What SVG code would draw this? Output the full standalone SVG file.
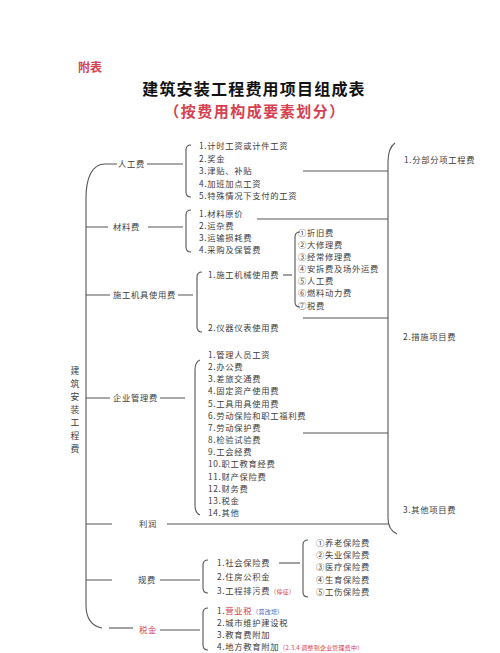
<svg xmlns="http://www.w3.org/2000/svg" width="500" height="653" viewBox="0 0 500 653">
<style>
text{font-family:"Noto Sans CJK SC","Noto Sans",sans-serif;fill:#3c3c3c}
.t{font-size:8.3px;letter-spacing:0.7px}
.b{font-size:8.8px}
.s{font-size:6px;letter-spacing:0.2px}
.red{fill:#d6404f}
.blue{fill:#4a5bb8}
.ln{fill:none;stroke:#555;stroke-width:1.1}
</style>
<rect width="500" height="653" fill="#fff"/>
<g id="header">
<text x="78" y="72" style="font-size:12px;font-weight:700" class="red">附表</text>
<text x="254" y="95" text-anchor="middle" style="font-size:16px;font-weight:700;letter-spacing:1.2px;fill:#111">建筑安装工程费用项目组成表</text>
<text x="255" y="117" text-anchor="middle" style="font-size:15px;font-weight:700;letter-spacing:1.5px" class="red">（按费用构成要素划分）</text>
</g>
<g id="connectors" class="ln">
<path d="M117,164 L105,164 C92,164 86,178 86,198 L86,605 C86,618 92,626 102,628"/>
<path d="M109,628 L133,628"/>
<path d="M147,164 L183,164"/>
<path d="M191,145 Q186,145 186,150 L186,192 Q186,197 191,197"/>
<path d="M86,227 L108,227 M148,227 L183,227"/>
<path d="M191,210 Q186,210 186,215 L186,247 Q186,252 191,252"/>
<path d="M86,295 L110,295 M178,295 L193,295"/>
<path d="M202,272 Q197,272 197,277 L197,327 Q197,332 202,332"/>
<path d="M283,275 L292,275"/>
<path d="M300,232 Q295,232 295,237 L295,302 Q295,307 300,307"/>
<path d="M86,398 L110,398 M160,398 L185,398"/>
<path d="M200,360 Q195,362 195,370 L195,505 Q195,513 200,515"/>
<path d="M86,524 L112,524 M167,524 L388,524"/>
<path d="M86,580 L112,580 M160,580 L200,580"/>
<path d="M208,560 Q203,560 203,565 L203,588 Q203,593 208,593"/>
<path d="M279,563 L300,563"/>
<path d="M308,540 Q303,540 303,545 L303,592 Q303,597 308,597"/>
<path d="M160,630 L200,630"/>
<path d="M208,608 Q203,608 203,613 L203,645 Q203,650 208,650"/>
<path d="M303,171 L388,171 M257,219 L388,219 M303,318 L388,318 M303,433 L388,433"/>
<path d="M395,143 Q388,148 388,162 L388,518 Q388,530 397,534"/>
</g>
<g id="root">
<text class="b" x="75" y="373.5" text-anchor="middle">建</text>
<text class="b" x="75" y="386.5" text-anchor="middle">筑</text>
<text class="b" x="75" y="399.5" text-anchor="middle">安</text>
<text class="b" x="75" y="412.5" text-anchor="middle">装</text>
<text class="b" x="75" y="425.5" text-anchor="middle">工</text>
<text class="b" x="75" y="438.5" text-anchor="middle">程</text>
<text class="b" x="75" y="451.5" text-anchor="middle">费</text>
</g>
<g id="rengong">
<text class="t" x="118" y="167">人工费</text>
<text class="t" x="199" y="149">1.计时工资或计件工资</text>
<text class="t" x="199" y="161.5">2.奖金</text>
<text class="t" x="199" y="174">3.津贴、补贴</text>
<text class="t" x="199" y="186.5">4.加班加点工资</text>
<text class="t" x="199" y="199">5.特殊情况下支付的工资</text>
</g>
<g id="cailiao">
<text class="t" x="113" y="230">材料费</text>
<text class="t" x="199" y="217">1.材料原价</text>
<text class="t" x="199" y="229">2.运杂费</text>
<text class="t" x="199" y="241">3.运输损耗费</text>
<text class="t" x="199" y="253">4.采购及保管费</text>
</g>
<g id="jiju">
<text class="t" x="113" y="298">施工机具使用费</text>
<text class="t" x="208" y="278">1.施工机械使用费</text>
<text class="t" x="208" y="331">2.仪器仪表使用费</text>
</g>
<g id="jixie">
<text class="t" x="298" y="236">①折旧费</text>
<text class="t" x="298" y="248">②大修理费</text>
<text class="t" x="298" y="260">③经常修理费</text>
<text class="t" x="298" y="272">④安拆费及场外运费</text>
<text class="t" x="298" y="284">⑤人工费</text>
<text class="t" x="298" y="296">⑥燃料动力费</text>
<text class="t" x="298" y="308.5">⑦税费</text>
</g>
<g id="guanli">
<text class="t" x="113" y="401">企业管理费</text>
<text class="t" x="208" y="358">1.管理人员工资</text>
<text class="t" x="208" y="370.1">2.办公费</text>
<text class="t" x="208" y="382.3">3.差旅交通费</text>
<text class="t" x="208" y="394.4">4.固定资产使用费</text>
<text class="t" x="208" y="406.6">5.工具用具使用费</text>
<text class="t" x="208" y="418.7">6.劳动保险和职工福利费</text>
<text class="t" x="208" y="430.9">7.劳动保护费</text>
<text class="t" x="208" y="443">8.检验试验费</text>
<text class="t" x="208" y="455.2">9.工会经费</text>
<text class="t" x="208" y="467.3">10.职工教育经费</text>
<text class="t" x="208" y="479.5">11.财产保险费</text>
<text class="t" x="208" y="491.6">12.财务费</text>
<text class="t" x="208" y="503.8">13.税金</text>
<text class="t" x="208" y="516">14.其他</text>
</g>
<g id="lirun">
<text class="t" x="139" y="527">利润</text>
</g>
<g id="guifei">
<text class="t" x="138" y="583">规费</text>
<text class="t" x="217" y="566">1.社会保险费</text>
<text class="t" x="217" y="580">2.住房公积金</text>
<text class="t" x="217" y="594">3.工程排污费<tspan class="s red">（停征）</tspan></text>
</g>
<g id="shebao">
<text class="t" x="316" y="546">①养老保险费</text>
<text class="t" x="316" y="558">②失业保险费</text>
<text class="t" x="316" y="570">③医疗保险费</text>
<text class="t" x="316" y="583">④生育保险费</text>
<text class="t" x="316" y="595">⑤工伤保险费</text>
</g>
<g id="shuijin">
<text class="t red" x="139" y="633">税金</text>
<text class="t" x="217" y="614">1.<tspan class="red">营业税</tspan><tspan class="s blue">（营改增）</tspan></text>
<text class="t" x="217" y="626">2.城市维护建设税</text>
<text class="t" x="217" y="638">3.教育费附加</text>
<text class="t" x="217" y="650">4.地方教育附加<tspan class="s red">（2.3.4 调整到企业管理费中）</tspan></text>
</g>
<g id="xiangmu">
<text class="t" x="404" y="163">1.分部分项工程费</text>
<text class="t" x="403" y="340">2.措施项目费</text>
<text class="t" x="403" y="513">3.其他项目费</text>
</g>
</svg>
